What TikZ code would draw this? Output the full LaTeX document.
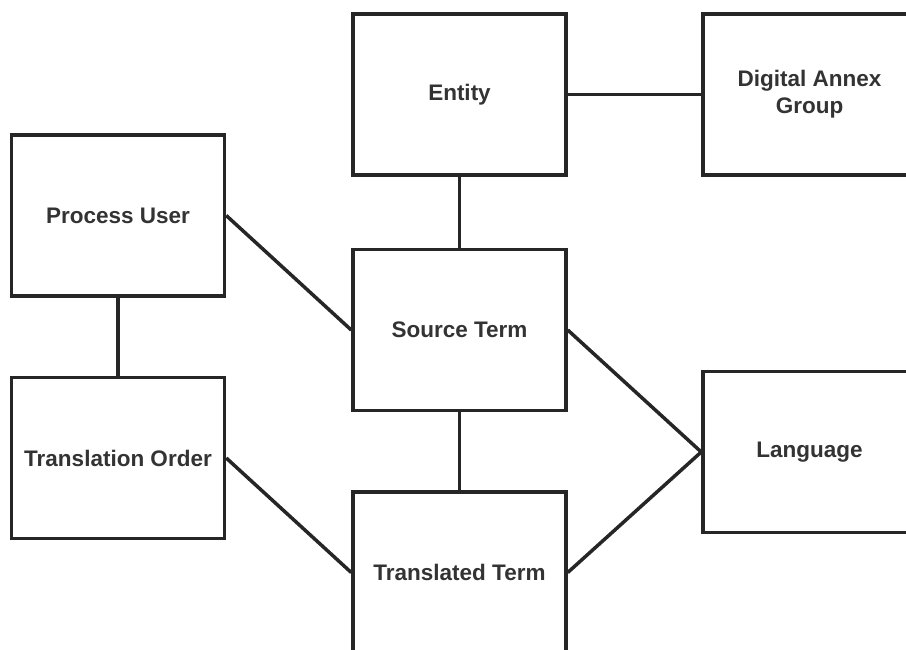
\documentclass[tikz,border=0pt]{standalone}
\usepackage{fontspec}
\setmainfont{Liberation Sans}
\begin{document}
\begin{tikzpicture}[x=1pt,y=-1pt]
      \useasboundingbox(0,0) rectangle (906,650);
      \clip (0,0) rectangle (906,650);
      \tikzset{B/.style = {shape=rectangle, draw=black!85, line width=3.5pt, minimum width=213pt, minimum height=161pt, text=black!80, align=center, font=\bfseries\fontsize{22.5}{27}\selectfont}}
      \tikzset{L/.style = {draw=black!85, line width=3.5pt}}
      \node[B](ent) at (459.5,94.5) {Entity};
      \node[B](dag) at (809.5,94.5) {Digital Annex\\Group};
      \node[B](pu) at (118,215.5) {Process User};
      \node[B](st) at (459.5,330) {Source Term};
      \node[B](tor) at (118,458) {Translation Order};
      \node[B](lang) at (809.5,452) {Language};
      \node[B](tt) at (459.5,572.5) {Translated Term};
      \draw[L](ent) to (dag);
      \draw[L](ent) to (st);
      \draw[L](pu.east) to (st.west);
      \draw[L](pu) to (tor);
      \draw[L](st.east) to (lang.west);
      \draw[L](st) to (tt);
      \draw[L](tor.east) to (tt.west);
      \draw[L](tt.east) to (lang.west);
    \end{tikzpicture}
\end{document}
